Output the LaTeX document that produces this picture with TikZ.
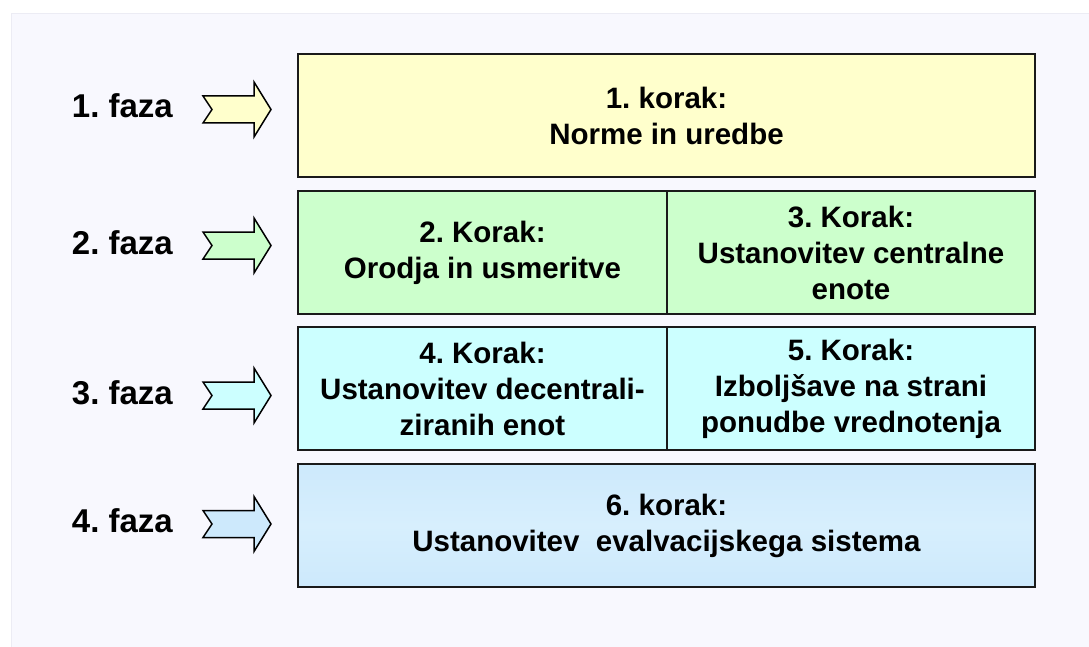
\documentclass[tikz,border=0pt]{standalone}
\usepackage{fontspec}
\setmainfont{Liberation Sans}
\frenchspacing
\definecolor{panelbg}{HTML}{F8F8FE}
\definecolor{paneledge}{HTML}{ECECF4}
\definecolor{phaseyellow}{HTML}{FFFFCC}
\definecolor{phasegreen}{HTML}{CCFFCC}
\definecolor{phasecyan}{HTML}{CCFFFF}
\definecolor{phaseblue}{HTML}{CDE9FC}
\definecolor{phasebluemid}{HTML}{D7EFFD}
\definecolor{edgegray}{HTML}{1A1A1A}
\begin{document}
\begin{tikzpicture}[x=1pt,y=-1pt,
  phaselabel/.style={anchor=base east,inner sep=0pt,font=\bfseries\fontsize{33}{36}\selectfont},
  stepbox/.style={draw=edgegray,line width=1.5pt,inner sep=0pt,align=center,
    font=\bfseries\fontsize{29.5}{36}\selectfont},
  blockarrow/.style={draw=black,line width=1.5pt,line join=miter},
  pics/phasearrow/.style={code={
    \draw[blockarrow,fill=#1] (0,-13.5) -- (51,-13.5) -- (51,-27.5) -- (68,0)
      -- (51,27.5) -- (51,13.5) -- (0,13.5) -- (9,0) -- cycle;}}]
  % page and panel
  \useasboundingbox (0,0) rectangle (1089,647);
  \fill[white] (0,0) rectangle (1089,647);
  \filldraw[fill=panelbg,draw=paneledge,line width=1pt] (11.5,13.5) rectangle (1095,655);

  % phase labels and arrows
  \node[phaselabel] (f1) at (173,118) {1. faza};
  \node[phaselabel] (f2) at (173,254) {2. faza};
  \node[phaselabel] (f3) at (173,404) {3. faza};
  \node[phaselabel] (f4) at (173,532.5) {4. faza};
  \pic at (203,109.5) {phasearrow=phaseyellow};
  \pic at (203,245.5) {phasearrow=phasegreen};
  \pic at (203,395.5) {phasearrow=phasecyan};
  \pic at (203,524) {phasearrow=phaseblue};

  % step boxes
  \node[stepbox,fill=phaseyellow,minimum width=737pt,minimum height=123pt]
    (s1) at (666.5,115.5) {1. korak:\\Norme in uredbe};
  \node[stepbox,fill=phasegreen,minimum width=369pt,minimum height=123pt]
    (s2) at (482.5,252.5) {2. Korak:\\Orodja in usmeritve};
  \node[stepbox,fill=phasegreen,minimum width=368pt,minimum height=123pt]
    (s3) at (851,252.5) {3. Korak:\\Ustanovitev centralne\\enote};
  \node[stepbox,fill=phasecyan,minimum width=369pt,minimum height=123pt]
    (s4) at (482.5,388.5) {4. Korak:\\Ustanovitev decentrali-\\ziranih enot};
  \node[stepbox,fill=phasecyan,minimum width=368pt,minimum height=123pt]
    (s5) at (851,388.5) {5. Korak:\\Izboljšave na strani\\ponudbe vrednotenja};
  \node[stepbox,top color=phaseblue,bottom color=phaseblue,middle color=phasebluemid,
    minimum width=737pt,minimum height=123pt]
    (s6) at (666.5,525.5) {6. korak:\\Ustanovitev\ \ evalvacijskega sistema};
\end{tikzpicture}
\end{document}
